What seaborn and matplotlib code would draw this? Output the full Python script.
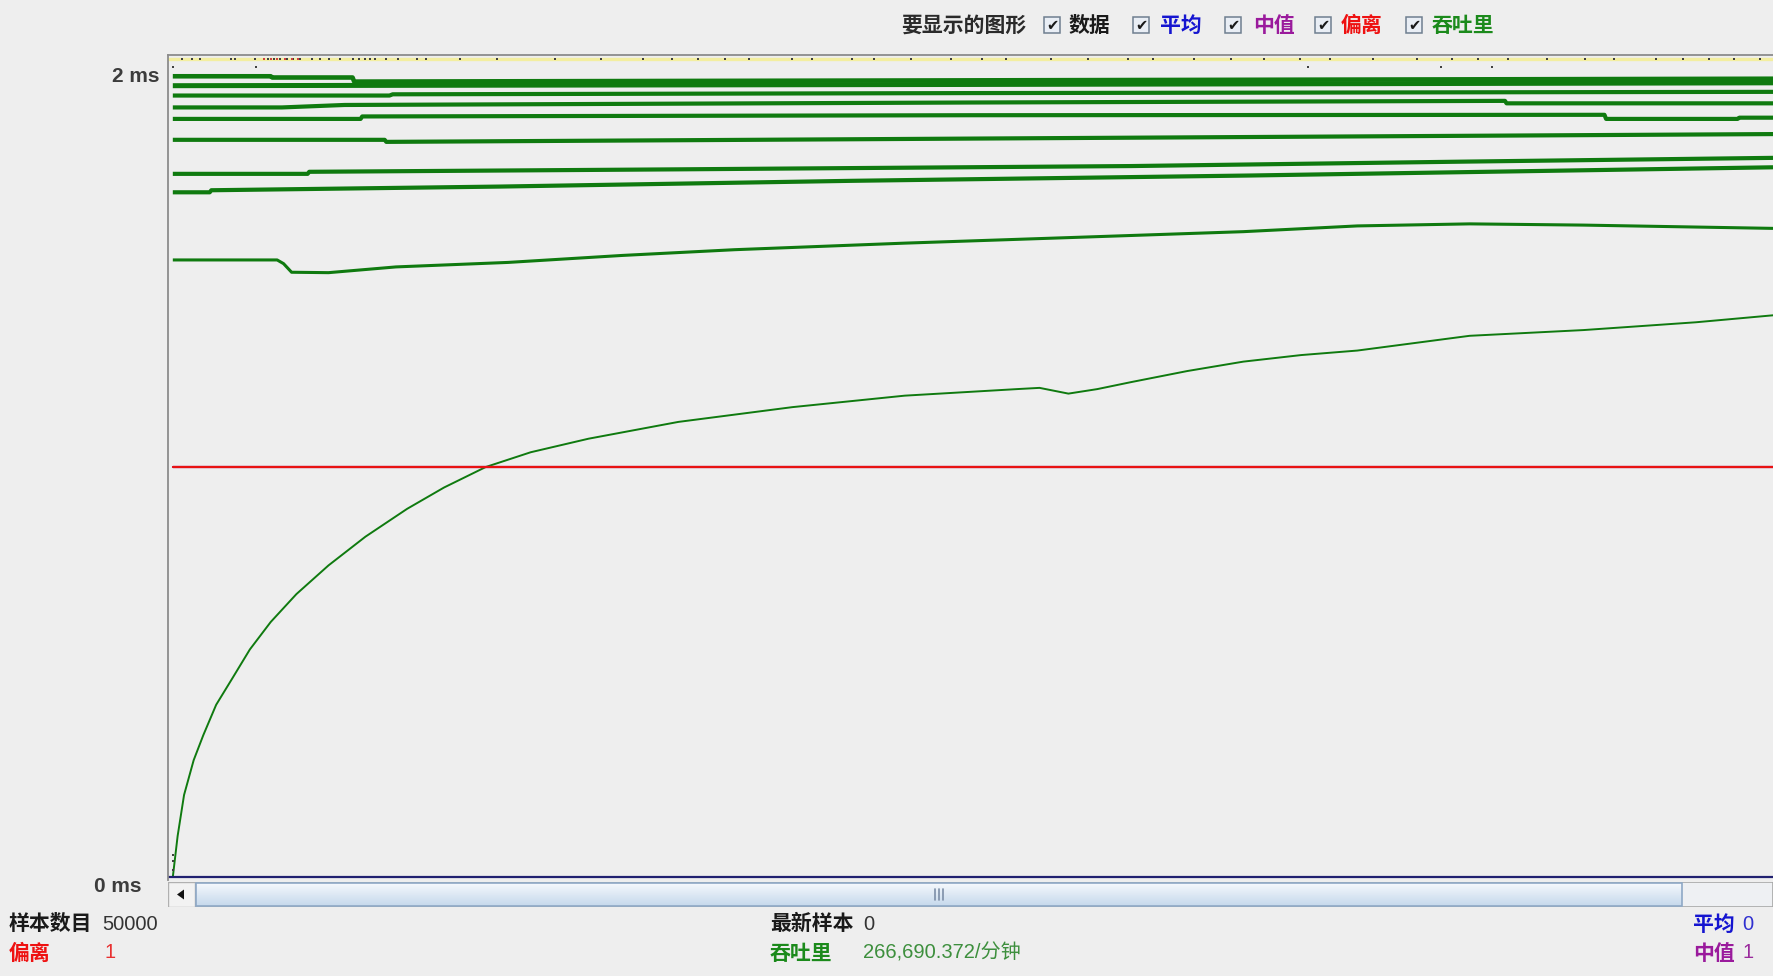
import numpy as np
import pandas as pd
import matplotlib
matplotlib.use("Agg")
import matplotlib.pyplot as plt
import seaborn as sns
from matplotlib.patches import Rectangle, Polygon
from matplotlib.colors import LinearSegmentedColormap

# ---------------- data (x: % of graph width, y: ms) ----------------
curve_x = [0.3, 0.6, 1.0, 1.6, 2.2, 3.0, 4.0, 5.1, 6.4, 8.0, 10.0, 12.3, 14.9, 17.2, 19.8, 22.6,
           26.2, 31.8, 38.9, 45.9, 52.9, 54.3, 56.1, 57.9, 60.0, 63.5, 67.0, 70.6, 74.1,
           81.1, 88.2, 95.2, 100.0]
curve_y = [0.0, 0.10, 0.200, 0.285, 0.346, 0.42, 0.484, 0.555, 0.622, 0.69, 0.760, 0.83, 0.898,
           0.95, 1.000, 1.036, 1.069, 1.110, 1.146, 1.174, 1.190, 1.193, 1.179, 1.190, 1.207,
           1.234, 1.257, 1.273, 1.284, 1.320, 1.334, 1.353, 1.370]

pass9_x = [0.3, 6.8, 7.2, 7.7, 10.0, 14.2, 21.2, 28.3, 35.3, 45.9, 56.5, 67.0, 74.1, 81.1, 88.2, 100.0]
pass9_y = [1.505, 1.505, 1.496, 1.475, 1.474, 1.488, 1.499, 1.516, 1.530, 1.546, 1.560, 1.574,
           1.588, 1.593, 1.590, 1.582]
pass8_x = [0.3, 2.6, 2.7, 20.7, 42.6, 67.5, 100.0]
pass8_y = [1.670, 1.670, 1.675, 1.684, 1.698, 1.711, 1.731]
pass7_x = [0.3, 8.7, 8.8, 31.8, 60.0, 81.1, 100.0]
pass7_y = [1.715, 1.715, 1.720, 1.726, 1.734, 1.745, 1.754]
pass6_x = [0.3, 13.5, 13.6, 50.0, 100.0]
pass6_y = [1.798, 1.798, 1.793, 1.801, 1.812]
pass5_x = [0.3, 12.0, 12.1, 50.0, 89.5, 89.6, 97.8, 97.9, 100.0]
pass5_y = [1.849, 1.849, 1.855, 1.858, 1.859, 1.849, 1.849, 1.852, 1.852]
pass4_x = [0.3, 7.1, 11.0, 50.0, 83.3, 83.4, 100.0]
pass4_y = [1.877, 1.877, 1.883, 1.889, 1.893, 1.887, 1.887]
pass3_x = [0.3, 13.8, 14.0, 50.0, 100.0]
pass3_y = [1.906, 1.906, 1.909, 1.912, 1.915]
pass2_x = [0.3, 50.0, 100.0]
pass2_y = [1.930, 1.933, 1.937]
pass1_x = [0.3, 6.4, 6.5, 11.5, 11.6, 100.0]
pass1_y = [1.953, 1.953, 1.950, 1.950, 1.940, 1.947]

average_ms = 0.0
median_ms = 1.0
deviation_ms = 1.0

# sample dots (near the top of the graph and at the bottom-left)
top_dots_x = [0.9, 1.5, 2.0, 3.9, 4.2, 5.4, 6.2, 6.6, 7.0, 7.4, 7.8, 8.2, 9.0, 9.5, 10.0, 10.7,
              11.5, 11.9, 12.3, 12.6, 12.9, 13.6, 14.3, 15.5, 16.1, 18.2, 20.5, 24.1, 27.0,
              29.6, 31.4, 33.0, 34.7, 36.2, 38.9, 40.1, 42.6, 44.0, 46.3, 48.8, 50.7, 52.2,
              55.0, 57.3, 59.8, 61.4, 63.9, 66.2, 68.3, 70.5, 72.4, 75.1, 77.8, 80.0, 81.6,
              83.5, 85.9, 88.3, 90.1, 92.7, 94.4, 96.0, 97.6, 99.2]
red_dots_x = [6.0, 6.4, 6.8, 7.3, 7.7, 8.1]
mid_dots_x = [0.3, 5.5, 71.0, 79.3, 82.5]
low_dots_x = [0.3, 0.3, 0.3]
low_dots_y = [0.054, 0.040, 0.017]

legend_labels = ["数据", "平均", "中值", "偏离", "吞吐里"]
legend_colors = ["#1a1a1a", "#1515d0", "#9a1a9c", "#ee1111", "#1b8a1b"]

# ---------------- figure ----------------
W, H = 1773, 976
sns.set_theme(style="white")
plt.rcParams["font.family"] = ["Liberation Sans", "Noto Sans CJK SC", "DejaVu Sans"]
BG = "#eeeeee"
fig = plt.figure(figsize=(W / 100, H / 100), dpi=100, facecolor=BG)

# overlay axes in pixel coordinates for UI decorations
ov = fig.add_axes([0, 0, 1, 1])
ov.set_xlim(0, W)
ov.set_ylim(H, 0)
ov.axis("off")
ov.patch.set_alpha(0)

# main plot axes: full-pixel 168..1773 x 55..880
ax = fig.add_axes([168 / W, (H - 880) / H, (W - 168) / W, 825 / H])
ax.set_facecolor(BG)
ax.set_xlim(0, 100)
ax.set_ylim(-3 / 410, 822 / 410)
for s in ["right", "bottom"]:
    ax.spines[s].set_visible(False)
for s in ["left", "top"]:
    ax.spines[s].set_color("#8c8c8c")
    ax.spines[s].set_linewidth(1.3)
ax.set_xticks([])
ax.set_yticks([])

GREEN = "#0f7a0f"

# top sample band
sns.lineplot(x=[0, 100], y=[1.995, 1.995], ax=ax, color="#f3eea0", linewidth=2.4)
ax.scatter(top_dots_x, [1.995] * len(top_dots_x), s=3, color="#404040", marker="s", linewidths=0, zorder=3)
ax.scatter(red_dots_x, [1.995] * len(red_dots_x), s=4, color="#d04040", marker="s", linewidths=0, zorder=3)
ax.scatter(mid_dots_x, [1.975] * len(mid_dots_x), s=3, color="#404040", marker="s", linewidths=0, zorder=3)
ax.scatter(low_dots_x, low_dots_y, s=3, color="#404040", marker="s", linewidths=0, zorder=3)

passes = [(pass1_x, pass1_y, 3.3), (pass2_x, pass2_y, 3.6), (pass3_x, pass3_y, 3.0),
          (pass4_x, pass4_y, 3.0), (pass5_x, pass5_y, 3.0), (pass6_x, pass6_y, 3.0),
          (pass7_x, pass7_y, 3.0), (pass8_x, pass8_y, 3.0), (pass9_x, pass9_y, 2.2)]
for px, py, lw in passes:
    df = pd.DataFrame({"x": px, "y": py})
    sns.lineplot(data=df, x="x", y="y", ax=ax, color=GREEN, linewidth=lw, sort=False,
                 estimator=None, solid_capstyle="butt")

dfc = pd.DataFrame({"x": curve_x, "y": curve_y})
sns.lineplot(data=dfc, x="x", y="y", ax=ax, color=GREEN, linewidth=1.4, sort=False, estimator=None)

# median (purple), deviation (red), average (blue)
sns.lineplot(x=[0.3, 100], y=[median_ms, median_ms], ax=ax, color="#9a1a9c", linewidth=1.6)
sns.lineplot(x=[0.3, 100], y=[deviation_ms, deviation_ms], ax=ax, color="#e81212", linewidth=1.6)
sns.lineplot(x=[0, 100], y=[average_ms, average_ms], ax=ax, color="#202070", linewidth=1.6)
ax.set_xlabel("")
ax.set_ylabel("")
if ax.get_legend():
    ax.get_legend().remove()

# ---------------- scrollbar ----------------
sb = fig.add_axes([168 / W, (H - 907) / H, (W - 168) / W, 25 / H])
sb.set_xlim(168, W)
sb.set_ylim(25, 0)
sb.axis("off")
sb.add_patch(Rectangle((168, 0), W - 168, 25, fc="#eef0f3", ec="#a8a8a8", lw=1.2))
sb.add_patch(Rectangle((168, 0), 27, 25, fc="#f2f2f2", ec="#b0b0b0", lw=1))
sb.add_patch(Polygon([(177, 12.5), (184, 7.5), (184, 17.5)], closed=True, fc="#111111", ec="none"))
cmap = LinearSegmentedColormap.from_list("thumb", ["#f6f9fd", "#dde8f4", "#c6d9ec"])
grad = np.linspace(0, 1, 50).reshape(-1, 1)
sb.imshow(grad, aspect="auto", cmap=cmap, extent=(196, 1682, 24, 1), zorder=2)
sb.add_patch(Rectangle((196, 1), 1682 - 196, 23, fc="none", ec="#8ea8c6", lw=1.2, zorder=3))
for gx in (935, 939, 943):
    sb.plot([gx, gx], [7, 18], color="#7d8fa8", lw=1.2, zorder=4)

# ---------------- texts ----------------
def ftext(x, y, s, **kw):
    ov.text(x, y, s, **kw)

CJK = ["Noto Sans CJK SC", "DejaVu Sans"]
MIX = ["Liberation Sans", "Noto Sans CJK SC", "DejaVu Sans"]
FS = 15.0

ftext(901, 25, "要显示的图形", family=CJK, weight="bold", fontsize=FS, color="#2a2a2a",
      va="center", ha="left")
box_x = [1044, 1133, 1225, 1315, 1406]
lab_x = [1069, 1160, 1253, 1341, 1432]
for bx, lx, lab, col in zip(box_x, lab_x, legend_labels, legend_colors):
    ov.add_patch(Rectangle((bx, 17), 16, 16, fc="#e9eef5", ec="#6f7f90", lw=1.1))
    ftext(bx + 8, 25.5, "✔", family=["DejaVu Sans"], fontsize=10.5,
          color="#1a1a1a", ha="center", va="center")
    ftext(lx, 25, lab, family=CJK, weight="bold", fontsize=FS, color=col, va="center", ha="left")

ftext(159, 77, "2 ms", family=MIX, weight="bold", fontsize=15, color="#3c3c3c", ha="right", va="center")
ftext(142, 886, "0 ms", family=MIX, weight="bold", fontsize=15, color="#3c3c3c", ha="right", va="center")

ftext(9, 924, "样本数目", family=CJK, weight="bold", fontsize=FS, color="#1a1a1a", va="center")
ftext(102, 924, "50000", family=MIX, fontsize=14.5, color="#333333", va="center")
ftext(9, 953, "偏离", family=CJK, weight="bold", fontsize=FS, color="#ee1111", va="center")
ftext(104, 953, "1", family=MIX, fontsize=14.5, color="#e83030", va="center")

ftext(770, 924, "最新样本", family=CJK, weight="bold", fontsize=FS, color="#1a1a1a", va="center")
ftext(863, 924, "0", family=MIX, fontsize=14.5, color="#333333", va="center")
ftext(770, 953, "吞吐里", family=CJK, weight="bold", fontsize=FS, color="#1b8a1b", va="center")
ftext(863, 953, "266,690.372/分钟", family=MIX, fontsize=14.5, color="#3d8f3d", va="center")

ftext(1693, 924, "平均", family=CJK, weight="bold", fontsize=FS, color="#1515d0", va="center")
ftext(1742, 924, "0", family=MIX, fontsize=14.5, color="#3030d0", va="center")
ftext(1693, 953, "中值", family=CJK, weight="bold", fontsize=FS, color="#9a1a9c", va="center")
ftext(1742, 953, "1", family=MIX, fontsize=14.5, color="#9a2a9c", va="center")

fig.savefig("out.png", dpi=100, facecolor=BG)
